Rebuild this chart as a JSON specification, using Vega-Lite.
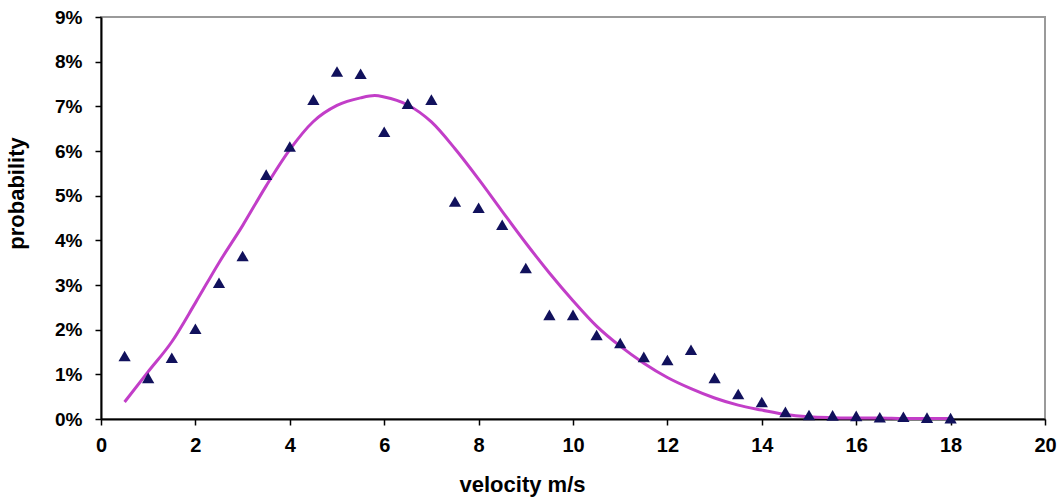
{
  "$schema": "https://vega.github.io/schema/vega-lite/v6.json",
  "autosize": {"type": "none"},
  "width": 944,
  "height": 402,
  "padding": {"left": 101, "top": 17, "right": 19, "bottom": 78},
  "background": "white",
  "config": {
    "view": {"stroke": "#9a9a9a", "strokeWidth": 2},
    "font": "Liberation Sans"
  },
  "datasets": {
    "observed": [
      {"velocity": 0.5, "probability": 0.0141},
      {"velocity": 1.0, "probability": 0.0092},
      {"velocity": 1.5, "probability": 0.0137},
      {"velocity": 2.0, "probability": 0.0202},
      {"velocity": 2.5, "probability": 0.0305},
      {"velocity": 3.0, "probability": 0.0365},
      {"velocity": 3.5, "probability": 0.0547},
      {"velocity": 4.0, "probability": 0.0610},
      {"velocity": 4.5, "probability": 0.0715},
      {"velocity": 5.0, "probability": 0.0778},
      {"velocity": 5.5, "probability": 0.0773},
      {"velocity": 6.0, "probability": 0.0643},
      {"velocity": 6.5, "probability": 0.0706},
      {"velocity": 7.0, "probability": 0.0715},
      {"velocity": 7.5, "probability": 0.0487},
      {"velocity": 8.0, "probability": 0.0473},
      {"velocity": 8.5, "probability": 0.0435},
      {"velocity": 9.0, "probability": 0.0338},
      {"velocity": 9.5, "probability": 0.0233},
      {"velocity": 10.0, "probability": 0.0233},
      {"velocity": 10.5, "probability": 0.0188},
      {"velocity": 11.0, "probability": 0.0170},
      {"velocity": 11.5, "probability": 0.0139},
      {"velocity": 12.0, "probability": 0.0132},
      {"velocity": 12.5, "probability": 0.0155},
      {"velocity": 13.0, "probability": 0.0092},
      {"velocity": 13.5, "probability": 0.0056},
      {"velocity": 14.0, "probability": 0.0038},
      {"velocity": 14.5, "probability": 0.0016},
      {"velocity": 15.0, "probability": 0.0009},
      {"velocity": 15.5, "probability": 0.0008},
      {"velocity": 16.0, "probability": 0.0007},
      {"velocity": 16.5, "probability": 0.0004},
      {"velocity": 17.0, "probability": 0.0005},
      {"velocity": 17.5, "probability": 0.0003},
      {"velocity": 18.0, "probability": 0.0002}
    ],
    "fitted": [
      {"velocity": 0.5, "probability": 0.0038},
      {"velocity": 1.0, "probability": 0.0106},
      {"velocity": 1.5, "probability": 0.0173},
      {"velocity": 2.0, "probability": 0.0260},
      {"velocity": 2.5, "probability": 0.0350},
      {"velocity": 3.0, "probability": 0.0433},
      {"velocity": 3.5, "probability": 0.0522},
      {"velocity": 4.0, "probability": 0.0603},
      {"velocity": 4.5, "probability": 0.0666},
      {"velocity": 5.0, "probability": 0.0702},
      {"velocity": 5.5, "probability": 0.0719},
      {"velocity": 5.8, "probability": 0.0724},
      {"velocity": 6.0, "probability": 0.0721},
      {"velocity": 6.5, "probability": 0.0703},
      {"velocity": 7.0, "probability": 0.0665},
      {"velocity": 7.5, "probability": 0.0605},
      {"velocity": 8.0, "probability": 0.0537},
      {"velocity": 8.5, "probability": 0.0465},
      {"velocity": 9.0, "probability": 0.0394},
      {"velocity": 9.5, "probability": 0.0327},
      {"velocity": 10.0, "probability": 0.0265},
      {"velocity": 10.5, "probability": 0.0208},
      {"velocity": 11.0, "probability": 0.0163},
      {"velocity": 11.5, "probability": 0.0125},
      {"velocity": 12.0, "probability": 0.0093},
      {"velocity": 12.5, "probability": 0.0068},
      {"velocity": 13.0, "probability": 0.0047},
      {"velocity": 13.5, "probability": 0.0031},
      {"velocity": 14.0, "probability": 0.0020},
      {"velocity": 14.5, "probability": 0.0010},
      {"velocity": 15.0, "probability": 0.0005},
      {"velocity": 15.5, "probability": 0.0003},
      {"velocity": 16.0, "probability": 0.0002},
      {"velocity": 16.5, "probability": 0.0002},
      {"velocity": 17.0, "probability": 0.0001},
      {"velocity": 17.5, "probability": 0.0001},
      {"velocity": 18.0, "probability": 0.0001}
    ]
  },
  "encoding": {
    "x": {
      "field": "velocity",
      "type": "quantitative",
      "scale": {"domain": [0, 20], "nice": false, "zero": false},
      "axis": {
        "title": "velocity m/s",
        "values": [0, 2, 4, 6, 8, 10, 12, 14, 16, 18, 20],
        "grid": false,
        "domainColor": "#000000",
        "domainWidth": 2,
        "tickColor": "#000000",
        "tickWidth": 1.5,
        "tickSize": 6,
        "labelFont": "Liberation Sans",
        "labelFontWeight": "bold",
        "labelFontSize": 20,
        "labelColor": "#000000",
        "labelPadding": 10,
        "labelFlush": false,
        "titleFont": "Liberation Sans",
        "titleFontWeight": "bold",
        "titleFontSize": 22,
        "titleColor": "#000000",
        "titleX": 421,
        "titleY": 72,
        "titleAlign": "center",
        "titleBaseline": "alphabetic"
      }
    },
    "y": {
      "field": "probability",
      "type": "quantitative",
      "scale": {"domain": [0, 0.09], "nice": false},
      "axis": {
        "title": "probability",
        "values": [0, 0.01, 0.02, 0.03, 0.04, 0.05, 0.06, 0.07, 0.08, 0.09],
        "format": ".0%",
        "grid": false,
        "domainColor": "#000000",
        "domainWidth": 2,
        "tickColor": "#000000",
        "tickWidth": 1.5,
        "tickSize": 6,
        "labelFont": "Liberation Sans",
        "labelFontWeight": "bold",
        "labelFontSize": 19,
        "labelColor": "#000000",
        "labelPadding": 13,
        "labelFlush": false,
        "titleFont": "Liberation Sans",
        "titleFontWeight": "bold",
        "titleFontSize": 22,
        "titleColor": "#000000",
        "titleAngle": 270,
        "titleX": -78,
        "titleY": 176,
        "titleAlign": "center",
        "titleBaseline": "alphabetic"
      }
    }
  },
  "layer": [
    {
      "data": {"name": "fitted"},
      "mark": {"type": "line", "color": "#c23ec8", "strokeWidth": 3, "interpolate": "monotone"}
    },
    {
      "data": {"name": "observed"},
      "mark": {"type": "point", "shape": "triangle-up", "filled": true, "size": 150, "color": "#11115c", "opacity": 1}
    }
  ]
}
